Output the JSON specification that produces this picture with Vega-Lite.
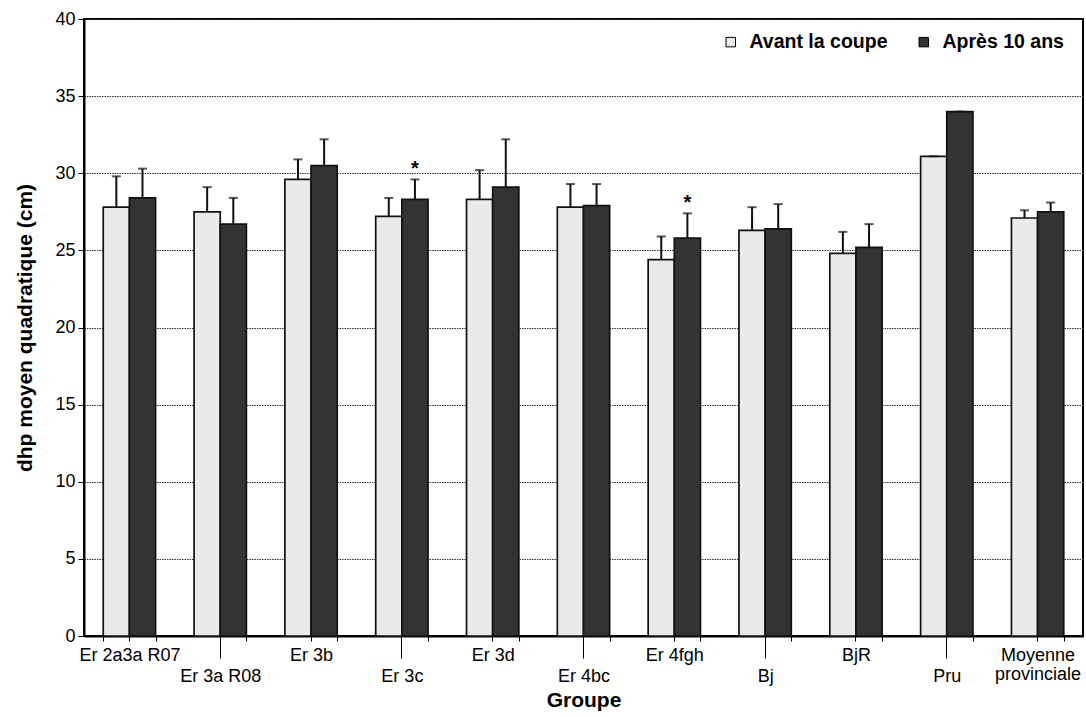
{
  "$schema": "https://vega.github.io/schema/vega-lite/v6.json",
  "width": 999,
  "height": 617,
  "autosize": "none",
  "padding": {"left": 84, "top": 19, "right": 3, "bottom": 81},
  "background": "white",
  "config": {
    "font": "Liberation Sans",
    "view": {"stroke": "black", "strokeWidth": 2},
    "axis": {"labelFont": "Liberation Sans", "titleFont": "Liberation Sans", "labelColor": "black", "titleColor": "black", "domainColor": "black", "tickColor": "black"}
  },
  "data": {
    "values": [
      {"group": "Er 2a3a R07", "serie": "Avant la coupe", "value": 27.8, "upper": 29.8, "star": ""},
      {"group": "Er 2a3a R07", "serie": "Après 10 ans", "value": 28.4, "upper": 30.3, "star": ""},
      {"group": "Er 3a R08", "serie": "Avant la coupe", "value": 27.5, "upper": 29.1, "star": ""},
      {"group": "Er 3a R08", "serie": "Après 10 ans", "value": 26.7, "upper": 28.4, "star": ""},
      {"group": "Er 3b", "serie": "Avant la coupe", "value": 29.6, "upper": 30.9, "star": ""},
      {"group": "Er 3b", "serie": "Après 10 ans", "value": 30.5, "upper": 32.2, "star": ""},
      {"group": "Er 3c", "serie": "Avant la coupe", "value": 27.2, "upper": 28.4, "star": ""},
      {"group": "Er 3c", "serie": "Après 10 ans", "value": 28.3, "upper": 29.6, "star": "*"},
      {"group": "Er 3d", "serie": "Avant la coupe", "value": 28.3, "upper": 30.2, "star": ""},
      {"group": "Er 3d", "serie": "Après 10 ans", "value": 29.1, "upper": 32.2, "star": ""},
      {"group": "Er 4bc", "serie": "Avant la coupe", "value": 27.8, "upper": 29.3, "star": ""},
      {"group": "Er 4bc", "serie": "Après 10 ans", "value": 27.9, "upper": 29.3, "star": ""},
      {"group": "Er 4fgh", "serie": "Avant la coupe", "value": 24.4, "upper": 25.9, "star": ""},
      {"group": "Er 4fgh", "serie": "Après 10 ans", "value": 25.8, "upper": 27.4, "star": "*"},
      {"group": "Bj", "serie": "Avant la coupe", "value": 26.3, "upper": 27.8, "star": ""},
      {"group": "Bj", "serie": "Après 10 ans", "value": 26.4, "upper": 28.0, "star": ""},
      {"group": "BjR", "serie": "Avant la coupe", "value": 24.8, "upper": 26.2, "star": ""},
      {"group": "BjR", "serie": "Après 10 ans", "value": 25.2, "upper": 26.7, "star": ""},
      {"group": "Pru", "serie": "Avant la coupe", "value": 31.1, "upper": 31.1, "star": ""},
      {"group": "Pru", "serie": "Après 10 ans", "value": 34.0, "upper": 34.0, "star": ""},
      {"group": "Moyenne provinciale", "serie": "Avant la coupe", "value": 27.1, "upper": 27.6, "star": ""},
      {"group": "Moyenne provinciale", "serie": "Après 10 ans", "value": 27.5, "upper": 28.1, "star": ""}
    ]
  },
  "layer": [
    {
      "mark": {"type": "bar", "stroke": "#111111", "strokeWidth": 1.7},
      "encoding": {
        "x": {
          "field": "group", "type": "nominal", "sort": null,
          "scale": {"paddingInner": 0.424, "paddingOuter": 0.212},
          "axis": {
            "orient": "bottom", "tickBand": "extent",
            "title": "Groupe", "titleFontSize": 21, "titleFontWeight": "bold",
            "titleBaseline": "alphabetic", "titleY": 70,
            "labelFontSize": 18, "labelAngle": 0, "labelBaseline": "top",
            "labelExpr": "datum.value == 'Moyenne provinciale' ? ['Moyenne', 'provinciale'] : datum.label",
            "labelLineHeight": 19,
            "domainWidth": 2, "tickWidth": 1, "tickSize": 5,
            "labelPadding": {"condition": {"test": "indexof(['Er 3a R08','Er 3c','Er 4bc','Bj','Pru'], datum.value) >= 0", "value": 26}, "value": 5}
          }
        },
        "xOffset": {"field": "serie", "type": "nominal", "sort": ["Avant la coupe", "Après 10 ans"]},
        "y": {
          "field": "value", "type": "quantitative", "title": "dhp moyen quadratique (cm)",
          "scale": {"domain": [0, 40], "nice": false},
          "axis": {
            "values": [0, 5, 10, 15, 20, 25, 30, 35, 40],
            "titleFontSize": 21, "titleFontWeight": "bold", "titlePadding": 19,
            "labelFontSize": 18, "tickSize": 6, "labelPadding": 3, "tickWidth": 1,
            "domainWidth": 2, "grid": true, "gridColor": "#333333", "gridDash": [1.5, 1], "gridWidth": 1
          }
        },
        "color": {
          "field": "serie", "type": "nominal",
          "scale": {"domain": ["Avant la coupe", "Après 10 ans"], "range": ["#e9ebea", "#333333"]},
          "legend": {
            "orient": "none", "legendX": 637, "legendY": 13, "direction": "horizontal",
            "title": null, "padding": 0, "symbolType": "square", "symbolSize": 90,
            "symbolStrokeColor": "black", "symbolStrokeWidth": 1,
            "labelFont": "Liberation Sans", "labelFontSize": 19.5, "labelFontWeight": "bold", "labelColor": "black",
            "labelOffset": 9, "columnPadding": 26
          }
        }
      }
    },
    {
      "mark": {"type": "rule", "color": "#111111", "strokeWidth": 2},
      "encoding": {
        "x": {
          "field": "group", "type": "nominal", "sort": null,
          "axis": {
            "orient": "bottom", "labels": false, "domain": false, "title": null, "grid": false,
            "tickWidth": 1, "tickColor": "black",
            "tickSize": {"condition": {"test": "indexof(['Er 3a R08','Er 3c','Er 4bc','Bj','Pru'], datum.value) >= 0", "value": 22}, "value": 5}
          }
        },
        "xOffset": {"field": "serie", "type": "nominal", "sort": ["Avant la coupe", "Après 10 ans"]},
        "y": {"field": "value", "type": "quantitative", "title": "dhp moyen quadratique (cm)"},
        "y2": {"field": "upper"}
      }
    },
    {
      "mark": {"type": "tick", "color": "#111111", "thickness": 2, "size": 9, "orient": "horizontal"},
      "encoding": {
        "x": {"field": "group", "type": "nominal", "sort": null, "axis": null},
        "xOffset": {"field": "serie", "type": "nominal", "sort": ["Avant la coupe", "Après 10 ans"]},
        "y": {"field": "upper", "type": "quantitative", "title": "dhp moyen quadratique (cm)"}
      }
    },
    {
      "transform": [{"filter": "datum.star == '*'"}],
      "mark": {"type": "text", "font": "Liberation Sans", "fontSize": 20, "fontWeight": "bold", "baseline": "alphabetic", "align": "center", "dy": -4, "color": "black"},
      "encoding": {
        "x": {"field": "group", "type": "nominal", "sort": null, "axis": null},
        "xOffset": {"field": "serie", "type": "nominal", "sort": ["Avant la coupe", "Après 10 ans"]},
        "y": {"field": "upper", "type": "quantitative", "title": "dhp moyen quadratique (cm)"},
        "text": {"field": "star"}
      }
    }
  ],
  "resolve": {"axis": {"x": "independent"}}
}
